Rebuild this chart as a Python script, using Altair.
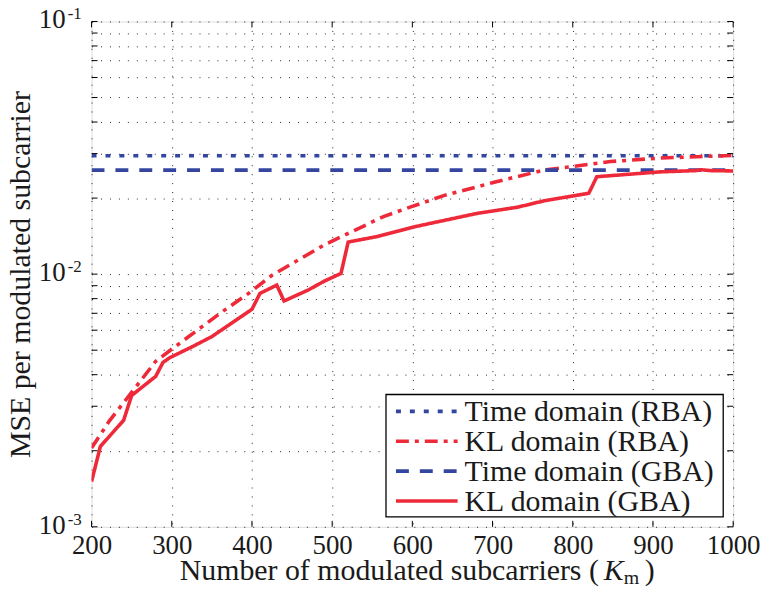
import altair as alt
import pandas as pd

# ---------------- data ----------------
series_names = ["Time domain (RBA)", "KL domain (RBA)", "Time domain (GBA)", "KL domain (GBA)"]

time_rba_x = [200, 1000]
time_rba_y = [2.94e-2, 2.94e-2]

kl_rba_x = [200, 222, 247, 280, 299, 363, 396, 425, 491, 564, 599, 640, 702, 764, 847, 909, 1000]
kl_rba_y = [2.05e-3, 2.62e-3, 3.31e-3, 4.52e-3, 5.02e-3, 7.1e-3, 8.4e-3, 9.9e-3, 1.31e-2,
            1.69e-2, 1.85e-2, 2.05e-2, 2.31e-2, 2.58e-2, 2.79e-2, 2.88e-2, 2.95e-2]

time_gba_x = [200, 1000]
time_gba_y = [2.58e-2, 2.58e-2]

kl_gba_x = [200, 211, 240, 250, 280, 289, 297, 326, 350, 400, 410, 431, 440, 470, 491, 511, 520,
            557, 599, 619, 681, 731, 764, 820, 830, 909, 954, 960, 971, 1000]
kl_gba_y = [1.51e-3, 2.08e-3, 2.64e-3, 3.31e-3, 3.94e-3, 4.47e-3, 4.66e-3, 5.17e-3, 5.66e-3,
            7.26e-3, 8.39e-3, 9.05e-3, 7.83e-3, 8.65e-3, 9.41e-3, 1.006e-2, 1.34e-2,
            1.41e-2, 1.53e-2, 1.58e-2, 1.74e-2, 1.84e-2, 1.95e-2, 2.09e-2, 2.43e-2,
            2.54e-2, 2.57e-2, 2.59e-2, 2.57e-2, 2.56e-2]

x_tick_values = [200, 300, 400, 500, 600, 700, 800, 900, 1000]
y_major_values = [1e-3, 1e-2, 1e-1]
y_major_exponents = ["-3", "-2", "-1"]

# ---------------- styles ----------------
BLUE = "#3446a0"
RED = "#ee2a3a"
series_colors = [BLUE, RED, BLUE, RED]
series_dashes = [[5, 9], [13, 6, 4, 6], [13, 11], [1, 0]]
FONT = "'Liberation Serif', 'DejaVu Serif', serif"
TXT = "#1a1a1a"
W, H = 645, 508

rows = []
for name, xs, ys in [(series_names[0], time_rba_x, time_rba_y),
                     (series_names[1], kl_rba_x, kl_rba_y),
                     (series_names[2], time_gba_x, time_gba_y),
                     (series_names[3], kl_gba_x, kl_gba_y)]:
    for xv, yv in zip(xs, ys):
        rows.append({"series": name, "x": xv, "y": yv})
df = pd.DataFrame(rows)

y_grid_values = [k * 10.0 ** e for e in (-3, -2) for k in range(1, 10)] + [1e-1]

xscale = alt.Scale(domain=[200, 1000], nice=False, zero=False)
yscale = alt.Scale(type="log", domain=[1e-3, 1e-1], nice=False)

base_x = alt.X("x:Q", scale=xscale,
               axis=alt.Axis(values=x_tick_values, format="d", grid=True, gridDash=[1, 8], gridColor="#000",
                             gridOpacity=0.85, ticks=False, domain=False, labels=True,
                             labelFont=FONT, labelFontSize=27, labelColor=TXT, labelPadding=6,
                             labelFlush=False, title=None))
base_y = alt.Y("y:Q", scale=yscale,
               axis=alt.Axis(values=y_grid_values, grid=True, gridDash=[1, 8], gridColor="#000",
                             gridOpacity=0.85, ticks=False, domain=False, labels=False,
                             title="MSE per modulated subcarrier", titleFont=FONT,
                             titleFontSize=30, titleFontWeight="normal", titleColor=TXT,
                             titlePadding=56))

lines = alt.Chart(df).mark_line(strokeWidth=3.6, strokeCap="butt", clip=True).encode(
    x=base_x, y=base_y,
    color=alt.Color("series:N", scale=alt.Scale(domain=series_names, range=series_colors), legend=None),
    strokeDash=alt.StrokeDash("series:N", scale=alt.Scale(domain=series_names, range=series_dashes), legend=None),
    detail="series:N",
)

# inward ticks (MATLAB style)
ytick_df = pd.DataFrame({"y": y_grid_values})
xtick_df = pd.DataFrame({"x": x_tick_values})
yt = alt.Y("y:Q", scale=yscale)
xt = alt.X("x:Q", scale=xscale)
tick_layers = [
    alt.Chart(ytick_df).mark_rule(color="#000", strokeWidth=1).encode(y=yt, x=alt.value(0), x2=alt.value(6)),
    alt.Chart(ytick_df).mark_rule(color="#000", strokeWidth=1).encode(y=yt, x=alt.value(W - 6), x2=alt.value(W)),
    alt.Chart(xtick_df).mark_rule(color="#000", strokeWidth=1).encode(x=xt, y=alt.value(0), y2=alt.value(6)),
    alt.Chart(xtick_df).mark_rule(color="#000", strokeWidth=1).encode(x=xt, y=alt.value(H - 6), y2=alt.value(H)),
]

# y tick labels 10^k
ylab_df = pd.DataFrame({"y": y_major_values, "exp": y_major_exponents, "base": ["10"] * 3})
ylab_base = alt.Chart(ylab_df).mark_text(align="right", baseline="middle", font=FONT, fontSize=27,
                                         color=TXT, dy=-1).encode(y=yt, x=alt.value(-26), text="base:N")
ylab_exp = alt.Chart(ylab_df).mark_text(align="left", baseline="middle", font=FONT, fontSize=17,
                                        color=TXT, dy=-7).encode(y=yt, x=alt.value(-24), text="exp:N")

# x title composed
one = pd.DataFrame({"a": [0]})
TY = H + 53
xt_main = alt.Chart(one).mark_text(align="right", baseline="alphabetic", font=FONT, fontSize=30,
                                   color=TXT, text="Number of modulated subcarriers (").encode(
    x=alt.value(510), y=alt.value(TY))
xt_K = alt.Chart(one).mark_text(align="left", baseline="alphabetic", font=FONT, fontSize=30,
                                fontStyle="italic", color=TXT, text="K").encode(
    x=alt.value(515), y=alt.value(TY))
xt_m = alt.Chart(one).mark_text(align="left", baseline="alphabetic", font=FONT, fontSize=20,
                                color=TXT, text="m").encode(
    x=alt.value(535), y=alt.value(TY + 5))
xt_close = alt.Chart(one).mark_text(align="left", baseline="alphabetic", font=FONT, fontSize=30,
                                    color=TXT, text=")").encode(
    x=alt.value(556), y=alt.value(TY))

# legend (manual)
LX0, LX1, LY0, LY1 = 296, 635, 375, 498
legend_layers = [
    alt.Chart(one).mark_rect(fill="white", stroke="#000", strokeWidth=1.3).encode(
        x=alt.value(LX0), x2=alt.value(LX1), y=alt.value(LY0), y2=alt.value(LY1))
]
for i, name in enumerate(series_names):
    yc = LY0 + 17 + 30 * i
    legend_layers.append(
        alt.Chart(one).mark_rule(color=series_colors[i], strokeWidth=3.6, strokeCap="butt",
                                 strokeDash=series_dashes[i]).encode(
            x=alt.value(306), x2=alt.value(368), y=alt.value(yc)))
    legend_layers.append(
        alt.Chart(one).mark_text(align="left", baseline="middle", font=FONT, fontSize=30,
                                 color=TXT, text=name).encode(x=alt.value(375), y=alt.value(yc + 1)))

chart = alt.layer(lines, *tick_layers, ylab_base, ylab_exp, xt_main, xt_K, xt_m, xt_close,
                  *legend_layers).properties(
    width=W, height=H,
    padding={"left": 84, "top": 12, "right": 30, "bottom": 64},
    autosize=alt.AutoSizeParams(type="none"),
).configure_view(stroke="#000", strokeWidth=1.3).configure(background="white")

chart.save("out.html", embed_options={"renderer": "svg", "actions": False})
